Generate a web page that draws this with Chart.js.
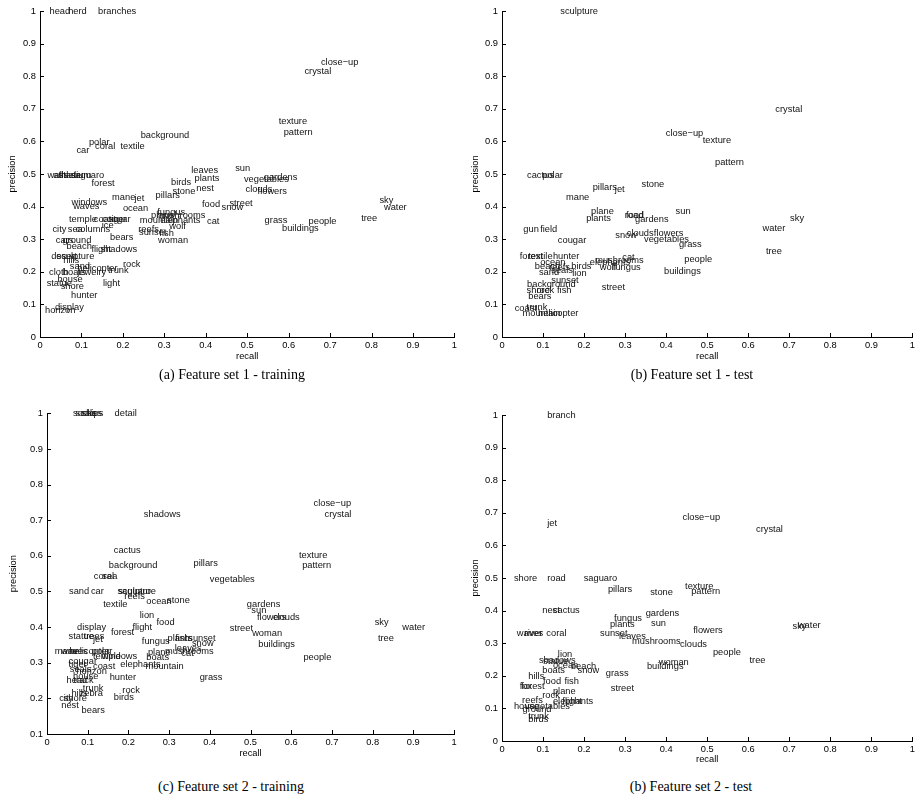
<!DOCTYPE html>
<html>
<head>
<meta charset="utf-8">
<script src="https://cdn.jsdelivr.net/npm/chart.js@4.4.1/dist/chart.umd.min.js"></script>
<style>
  body { margin: 0; background: #fff; width: 918px; height: 808px; position: relative; overflow: hidden; }
  canvas { position: absolute; }
  .caption { position: absolute; font-family: 'Liberation Serif', 'Times New Roman', serif; font-size: 14px;
             line-height: 16px; color: #000; white-space: nowrap; transform: translateX(-50%); }
</style>
</head>
<body>
<canvas id="set1Train" width="460" height="372" style="left:0;top:0"></canvas>
<canvas id="set1Test" width="456" height="372" style="left:462px;top:0"></canvas>
<canvas id="set2Train" width="460" height="372" style="left:0;top:400px"></canvas>
<canvas id="set2Test" width="456" height="372" style="left:462px;top:400px"></canvas>
<div class="caption" style="left:232px;top:367px">(a) Feature set 1 - training</div>
<div class="caption" style="left:692px;top:367px">(b) Feature set 1 - test</div>
<div class="caption" style="left:231px;top:779px">(c) Feature set 2 - training</div>
<div class="caption" style="left:691px;top:779px">(b) Feature set 2 - test</div>
<script>
// tick values and labels
const recallTicks = [0, 0.1, 0.2, 0.3, 0.4, 0.5, 0.6, 0.7, 0.8, 0.9, 1];
const recallTickLabels = ['0', '0.1', '0.2', '0.3', '0.4', '0.5', '0.6', '0.7', '0.8', '0.9', '1'];
const precisionTicks = [0, 0.1, 0.2, 0.3, 0.4, 0.5, 0.6, 0.7, 0.8, 0.9, 1];
const precisionTickLabels = ['0', '0.1', '0.2', '0.3', '0.4', '0.5', '0.6', '0.7', '0.8', '0.9', '1'];
const precisionTicksFrom01 = [0.1, 0.2, 0.3, 0.4, 0.5, 0.6, 0.7, 0.8, 0.9, 1];
const precisionTickLabelsFrom01 = ['0.1', '0.2', '0.3', '0.4', '0.5', '0.6', '0.7', '0.8', '0.9', '1'];

// (a) feature set 1 - training
const set1TrainWords = ['head', 'herd', 'branches', 'close−up', 'crystal', 'texture', 'pattern', 'background',
  'polar', 'coral', 'textile', 'car', 'walls', 'athlete', 'stadium', 'saguaro', 'forest', 'leaves', 'plants',
  'nest', 'birds', 'stone', 'sun', 'vegetables', 'gardens', 'clouds', 'flowers', 'pillars', 'mane', 'jet',
  'windows', 'waves', 'ocean', 'fungus', 'plane', 'mushrooms', 'food', 'street', 'snow', 'temple', 'coast',
  'cougar', 'tiger', 'mountain', 'elephants', 'cat', 'city', 'sea', 'columns', 'ice', 'bears', 'reefs',
  'sunset', 'fish', 'wolf', 'woman', 'cars', 'ground', 'beach', 'flight', 'shadows', 'desert', 'sculpture',
  'hills', 'sand', 'rock', 'helicopter', 'trunk', 'cloth', 'boats', 'jewelry', 'house', 'statue', 'shore',
  'light', 'hunter', 'display', 'horizon', 'grass', 'buildings', 'people', 'tree', 'sky', 'water'];
const set1TrainRecall = [0.023, 0.068, 0.14, 0.678, 0.638, 0.576, 0.588, 0.243,
  0.118, 0.133, 0.194, 0.088, 0.018, 0.032, 0.045, 0.074, 0.124, 0.365, 0.373,
  0.377, 0.316, 0.32, 0.471, 0.492, 0.54, 0.496, 0.525, 0.279, 0.174, 0.228,
  0.076, 0.08, 0.2, 0.283, 0.268, 0.282, 0.391, 0.457, 0.438, 0.07, 0.13,
  0.15, 0.166, 0.241, 0.29, 0.403, 0.03, 0.067, 0.086, 0.149, 0.169, 0.237,
  0.239, 0.288, 0.312, 0.285, 0.038, 0.054, 0.064, 0.124, 0.146, 0.027, 0.04,
  0.056, 0.072, 0.2, 0.09, 0.164, 0.022, 0.055, 0.09, 0.042, 0.016, 0.05,
  0.152, 0.075, 0.036, 0.012, 0.542, 0.584, 0.648, 0.775, 0.819, 0.83];
const set1TrainPrecision = [1.0, 1.0, 1.0, 0.841, 0.814, 0.66, 0.629, 0.617,
  0.597, 0.584, 0.586, 0.571, 0.497, 0.497, 0.497, 0.497, 0.47, 0.512, 0.485,
  0.457, 0.475, 0.448, 0.517, 0.484, 0.488, 0.453, 0.447, 0.434, 0.427, 0.425,
  0.414, 0.4, 0.393, 0.382, 0.372, 0.372, 0.408, 0.411, 0.396, 0.362, 0.362,
  0.362, 0.362, 0.359, 0.359, 0.353, 0.331, 0.331, 0.331, 0.343, 0.304, 0.331,
  0.321, 0.317, 0.338, 0.297, 0.297, 0.297, 0.277, 0.269, 0.269, 0.248, 0.248,
  0.235, 0.218, 0.224, 0.209, 0.205, 0.197, 0.197, 0.197, 0.178, 0.163, 0.156,
  0.163, 0.129, 0.09, 0.08, 0.358, 0.334, 0.353, 0.364, 0.42, 0.396];

// (b) feature set 1 - test
const set1TestWords = ['sculpture', 'crystal', 'close−up', 'texture', 'pattern', 'cactus', 'polar', 'pillars',
  'jet', 'stone', 'mane', 'plane', 'plants', 'road', 'food', 'gardens', 'sun', 'gun', 'field', 'cougar',
  'snow', 'clouds', 'flowers', 'vegetables', 'grass', 'sky', 'water', 'tree', 'forest', 'textile', 'hunter',
  'ocean', 'beach', 'reefs', 'sand', 'seals', 'birds', 'lion', 'elephants', 'mushrooms', 'cat', 'wolf',
  'fungus', 'people', 'buildings', 'sunset', 'background', 'shore', 'rock', 'fish', 'bears', 'street',
  'coast', 'trunk', 'mountain', 'helicopter'];
const set1TestRecall = [0.142, 0.666, 0.399, 0.489, 0.519, 0.061, 0.098, 0.221,
  0.275, 0.34, 0.156, 0.217, 0.205, 0.299, 0.302, 0.324, 0.423, 0.052, 0.093, 0.136,
  0.276, 0.304, 0.37, 0.346, 0.431, 0.702, 0.635, 0.643, 0.043, 0.064, 0.124,
  0.093, 0.08, 0.115, 0.09, 0.12, 0.169, 0.171, 0.214, 0.227, 0.293, 0.238,
  0.27, 0.444, 0.395, 0.12, 0.061, 0.06, 0.084, 0.134, 0.064, 0.243,
  0.031, 0.06, 0.05, 0.088];
const set1TestPrecision = [1.0, 0.699, 0.623, 0.604, 0.536, 0.497, 0.497, 0.459,
  0.453, 0.469, 0.428, 0.385, 0.364, 0.372, 0.372, 0.361, 0.385, 0.331, 0.331, 0.297,
  0.313, 0.317, 0.317, 0.298, 0.283, 0.365, 0.334, 0.261, 0.248, 0.248, 0.248,
  0.228, 0.218, 0.213, 0.197, 0.205, 0.216, 0.196, 0.228, 0.236, 0.243, 0.212,
  0.212, 0.238, 0.202, 0.175, 0.162, 0.142, 0.142, 0.142, 0.123, 0.153,
  0.088, 0.091, 0.073, 0.073];

// (c) feature set 2 - training
const set2TrainWords = ['socks', 'scales', 'ships', 'detail', 'close−up', 'crystal', 'shadows', 'cactus',
  'texture', 'pattern', 'pillars', 'background', 'coral', 'sea', 'vegetables', 'sand', 'car', 'saguaro',
  'sculpture', 'reefs', 'ocean', 'stone', 'textile', 'lion', 'food', 'gardens', 'sun', 'flowers', 'clouds',
  'display', 'flight', 'forest', 'street', 'woman', 'buildings', 'statue', 'trees', 'jet', 'fungus',
  'plants', 'fish', 'sunset', 'snow', 'leaves', 'mushrooms', 'cat', 'plane', 'boats', 'mane', 'waves',
  'helicopter', 'polar', 'temple', 'windows', 'cougar', 'tiger', 'coast', 'elephants', 'mountain', 'seals',
  'horizon', 'house', 'hunter', 'grass', 'head', 'track', 'trunk', 'rock', 'birds', 'hills', 'zebra',
  'city', 'shore', 'nest', 'bears', 'sky', 'water', 'tree', 'people'];
const set2TrainRecall = [0.064, 0.07, 0.085, 0.166, 0.655, 0.682, 0.238, 0.164,
  0.619, 0.627, 0.36, 0.152, 0.115, 0.136, 0.4, 0.054, 0.108, 0.173,
  0.175, 0.19, 0.244, 0.295, 0.138, 0.228, 0.269, 0.491, 0.502, 0.516, 0.555,
  0.074, 0.21, 0.157, 0.449, 0.504, 0.519, 0.053, 0.09, 0.113, 0.233,
  0.296, 0.315, 0.347, 0.356, 0.314, 0.29, 0.33, 0.248, 0.244, 0.019, 0.035,
  0.055, 0.11, 0.113, 0.134, 0.053, 0.053, 0.113, 0.18, 0.242, 0.056,
  0.072, 0.064, 0.154, 0.375, 0.048, 0.065, 0.088, 0.185, 0.164, 0.06, 0.08,
  0.03, 0.041, 0.035, 0.085, 0.805, 0.873, 0.813, 0.63];
const set2TrainPrecision = [1.0, 1.0, 1.0, 1.0, 0.747, 0.717, 0.715, 0.614,
  0.6, 0.574, 0.58, 0.572, 0.543, 0.543, 0.535, 0.499, 0.499, 0.499,
  0.499, 0.485, 0.472, 0.475, 0.465, 0.434, 0.412, 0.465, 0.448, 0.426, 0.426,
  0.398, 0.398, 0.385, 0.395, 0.383, 0.351, 0.373, 0.373, 0.366, 0.359,
  0.369, 0.369, 0.369, 0.355, 0.341, 0.331, 0.325, 0.329, 0.314, 0.331, 0.331,
  0.331, 0.331, 0.319, 0.319, 0.305, 0.296, 0.289, 0.296, 0.289, 0.282,
  0.276, 0.261, 0.258, 0.26, 0.249, 0.249, 0.228, 0.223, 0.204, 0.214, 0.214,
  0.2, 0.2, 0.179, 0.165, 0.413, 0.4, 0.367, 0.315];

// (b) feature set 2 - test
const set2TestWords = ['branch', 'jet', 'close−up', 'crystal', 'shore', 'road', 'saguaro', 'pillars', 'stone',
  'texture', 'pattern', 'nest', 'cactus', 'gardens', 'fungus', 'plants', 'sun', 'flowers', 'waves', 'river',
  'coral', 'sunset', 'leaves', 'mushrooms', 'clouds', 'people', 'tree', 'sky', 'water', 'woman', 'buildings',
  'lion', 'shadows', 'statue', 'ocean', 'beach', 'boats', 'snow', 'grass', 'hills', 'food', 'fish', 'fox',
  'forest', 'street', 'plane', 'rock', 'reefs', 'elephants', 'flight', 'house', 'vegetables', 'ground',
  'trunk', 'birds'];
const set2TestRecall = [0.11, 0.11, 0.44, 0.619, 0.029, 0.11, 0.199, 0.258, 0.361,
  0.446, 0.461, 0.098, 0.124, 0.35, 0.273, 0.263, 0.363, 0.466, 0.036, 0.055,
  0.108, 0.239, 0.285, 0.317, 0.434, 0.514, 0.603, 0.708, 0.721, 0.382, 0.353,
  0.136, 0.09, 0.1, 0.124, 0.168, 0.098, 0.184, 0.253, 0.064, 0.1, 0.152, 0.043,
  0.047, 0.265, 0.124, 0.098, 0.049, 0.124, 0.147, 0.029, 0.056, 0.05,
  0.064, 0.064];
const set2TestPrecision = [1.0, 0.666, 0.687, 0.65, 0.5, 0.5, 0.5, 0.466, 0.457,
  0.475, 0.459, 0.399, 0.399, 0.392, 0.375, 0.357, 0.361, 0.34, 0.33, 0.33,
  0.33, 0.33, 0.322, 0.304, 0.296, 0.273, 0.248, 0.351, 0.356, 0.24, 0.228,
  0.266, 0.248, 0.244, 0.233, 0.23, 0.215, 0.215, 0.208, 0.197, 0.184, 0.182, 0.166,
  0.166, 0.16, 0.151, 0.141, 0.124, 0.122, 0.122, 0.107, 0.107, 0.097,
  0.075, 0.067];

const FONT_FAMILY = '"Liberation Sans", Arial, Helvetica, sans-serif';
const FONT_SIZE = 9.3;

// writes each word at its (recall, precision) point, left aligned like matlab text()
const wordLabels = {
    id: 'wordLabels',
    afterDatasetsDraw(chart) {
        const { ctx, scales: { x, y } } = chart;
        ctx.save();
        ctx.font = FONT_SIZE + 'px ' + FONT_FAMILY;
        ctx.fillStyle = '#111';
        ctx.textAlign = 'left';
        ctx.textBaseline = 'middle';
        chart.data.datasets[0].data.forEach(p => {
            ctx.fillText(p.word, x.getPixelForValue(p.x), y.getPixelForValue(p.y));
        });
        ctx.restore();
    }
};

// small tick marks pointing into the plot
const inwardTicks = {
    id: 'inwardTicks',
    afterDraw(chart) {
        const { ctx, chartArea, scales: { x, y } } = chart;
        ctx.save();
        ctx.strokeStyle = '#000';
        ctx.lineWidth = 1;
        ctx.beginPath();
        x.ticks.forEach(t => {
            const px = Math.round(x.getPixelForValue(t.value)) + 0.5;
            ctx.moveTo(px, chartArea.bottom);
            ctx.lineTo(px, chartArea.bottom - 4);
        });
        y.ticks.forEach(t => {
            const py = Math.round(y.getPixelForValue(t.value)) + 0.5;
            ctx.moveTo(chartArea.left, py);
            ctx.lineTo(chartArea.left + 4, py);
        });
        ctx.stroke();
        ctx.restore();
    }
};

function drawWordChart(canvasId, words, recall, precision, yTicks, yTickLabels, box) {
    const ctx = document.getElementById(canvasId);
    if (!ctx) return;

    const font = { family: FONT_FAMILY, size: FONT_SIZE };

    new Chart(ctx, {
        type: 'scatter',
        data: {
            datasets: [{
                data: words.map((w, i) => ({ x: recall[i], y: precision[i], word: w })),
                pointRadius: 0,
                pointHoverRadius: 0,
            }]
        },
        options: {
            responsive: false,
            animation: false,
            events: [],
            layout: { padding: { left: 0, top: box.top, right: box.right, bottom: 0 } },
            plugins: {
                legend: { display: false },
                tooltip: { enabled: false },
                title: { display: false }
            },
            scales: {
                x: {
                    type: 'linear',
                    min: 0,
                    max: 1,
                    afterBuildTicks: scale => { scale.ticks = recallTicks.map(v => ({ value: v })); },
                    afterFit: scale => { scale.height = box.xHeight; },
                    ticks: {
                        autoSkip: false,
                        maxRotation: 0,
                        padding: 3,
                        color: '#000',
                        font: font,
                        callback: (v, i) => recallTickLabels[i]
                    },
                    grid: { display: false, drawTicks: false },
                    border: { display: true, color: '#000', width: 1 },
                    title: { display: true, text: 'recall', color: '#000', font: font,
                             padding: { top: 0, bottom: box.xTitlePad } }
                },
                y: {
                    type: 'linear',
                    min: yTicks[0],
                    max: 1,
                    afterBuildTicks: scale => { scale.ticks = yTicks.map(v => ({ value: v })); },
                    afterFit: scale => { scale.width = box.yWidth; },
                    ticks: {
                        autoSkip: false,
                        padding: 4,
                        color: '#000',
                        font: font,
                        callback: (v, i) => yTickLabels[i]
                    },
                    grid: { display: false, drawTicks: false },
                    border: { display: true, color: '#000', width: 1 },
                    title: { display: true, text: 'precision', color: '#000', font: font,
                             padding: { top: box.yTitlePad, bottom: 0 } }
                }
            }
        },
        plugins: [wordLabels, inwardTicks]
    });
}

drawWordChart('set1Train', set1TrainWords, set1TrainRecall, set1TrainPrecision,
    precisionTicks, precisionTickLabels,
    { top: 11, right: 4, yWidth: 40, xHeight: 35, xTitlePad: 10, yTitlePad: 7 });
drawWordChart('set1Test', set1TestWords, set1TestRecall, set1TestPrecision,
    precisionTicks, precisionTickLabels,
    { top: 11, right: 2, yWidth: 40, xHeight: 35, xTitlePad: 10, yTitlePad: 7.5 });
drawWordChart('set2Train', set2TrainWords, set2TrainRecall, set2TrainPrecision,
    precisionTicksFrom01, precisionTickLabelsFrom01,
    { top: 13.3, right: 6, yWidth: 47, xHeight: 38, xTitlePad: 12.5, yTitlePad: 8 });
drawWordChart('set2Test', set2TestWords, set2TestRecall, set2TestPrecision,
    precisionTicks, precisionTickLabels,
    { top: 15, right: 2, yWidth: 40, xHeight: 31, xTitlePad: 7, yTitlePad: 7.5 });
</script>
</body>
</html>
